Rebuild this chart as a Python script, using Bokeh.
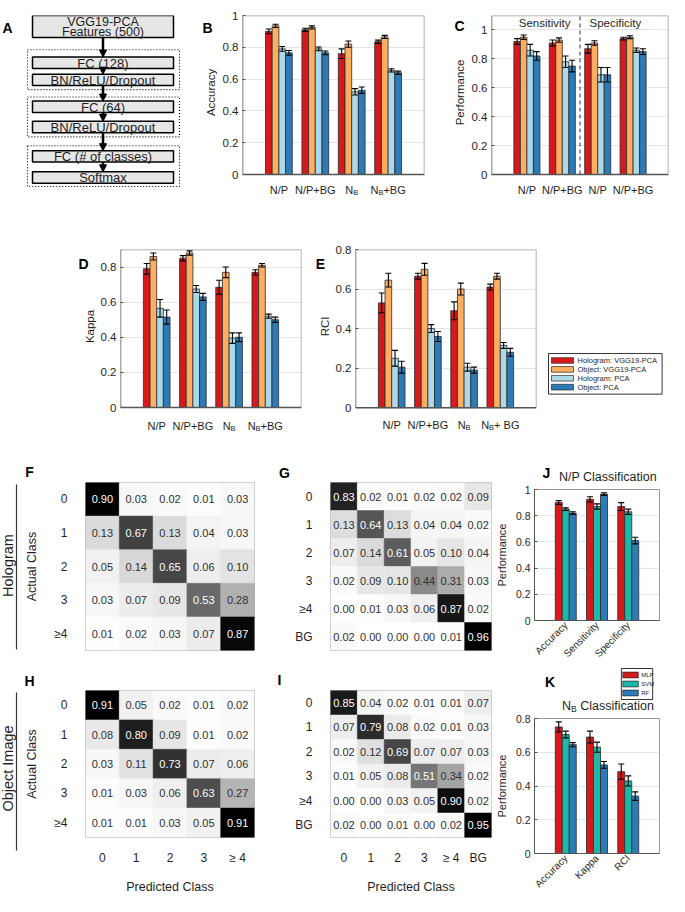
import math
from bokeh.plotting import figure
from bokeh.models import (Range1d, FixedTicker, Whisker, TeeHead, ColumnDataSource,
                          CustomJSTickFormatter, Arrow, NormalHead)
from bokeh.layouts import row, column
from bokeh.embed import file_html
from bokeh.resources import INLINE
from bokeh.core.properties import value
from bokeh.palettes import Greys256
from bokeh.transform import linear_cmap

FONT = "Liberation Sans"
INK = "#1f1f1f"
AXC = "#555555"
BOXC = "#9a9a9a"

# ---------------- data ----------------
series_names = ["Hologram: VGG19-PCA", "Object: VGG19-PCA", "Hologram: PCA", "Object: PCA"]
series_colors = ["#d7191c", "#fdae61", "#abd9e9", "#2c7bb6"]
clf_names = ["MLP", "SVM", "RF"]
clf_colors = ["#d7191c", "#1db9a8", "#2c7bb6"]

cats_acc = ["N/P", "N/P+BG", "N_B", "N_B+BG"]
cats_rci = ["N/P", "N/P+BG", "N_B", "N_B+ BG"]
cats_perf = ["N/P", "N/P+BG", "N/P", "N/P+BG"]
perf_groups = ["Sensitivity", "Specificity"]

# B: accuracy
acc_holo_vgg = [0.90, 0.91, 0.76, 0.835]
acc_obj_vgg = [0.935, 0.925, 0.82, 0.865]
acc_holo_pca = [0.79, 0.79, 0.52, 0.655]
acc_obj_pca = [0.765, 0.765, 0.53, 0.64]
acc_err_holo_vgg = [0.015, 0.01, 0.03, 0.01]
acc_err_obj_vgg = [0.01, 0.01, 0.02, 0.01]
acc_err_holo_pca = [0.015, 0.012, 0.02, 0.01]
acc_err_obj_pca = [0.015, 0.012, 0.02, 0.01]

# C: sensitivity (first two) / specificity (last two)
perf_holo_vgg = [0.92, 0.91, 0.87, 0.94]
perf_obj_vgg = [0.95, 0.93, 0.91, 0.95]
perf_holo_pca = [0.86, 0.78, 0.69, 0.86]
perf_obj_pca = [0.82, 0.75, 0.69, 0.85]
perf_err_holo_vgg = [0.02, 0.02, 0.03, 0.01]
perf_err_obj_vgg = [0.015, 0.015, 0.015, 0.01]
perf_err_holo_pca = [0.04, 0.04, 0.05, 0.015]
perf_err_obj_pca = [0.03, 0.04, 0.05, 0.02]

# D: kappa
kap_holo_vgg = [0.79, 0.85, 0.685, 0.77]
kap_obj_vgg = [0.86, 0.88, 0.77, 0.81]
kap_holo_pca = [0.565, 0.675, 0.395, 0.52]
kap_obj_pca = [0.515, 0.63, 0.40, 0.50]
kap_err_holo_vgg = [0.03, 0.015, 0.04, 0.015]
kap_err_obj_vgg = [0.02, 0.012, 0.03, 0.01]
kap_err_holo_pca = [0.05, 0.02, 0.03, 0.012]
kap_err_obj_pca = [0.04, 0.02, 0.025, 0.015]

# E: RCI
rci_holo_vgg = [0.53, 0.665, 0.49, 0.61]
rci_obj_vgg = [0.645, 0.70, 0.60, 0.665]
rci_holo_pca = [0.25, 0.40, 0.205, 0.315]
rci_obj_pca = [0.205, 0.36, 0.19, 0.28]
rci_err_holo_vgg = [0.05, 0.015, 0.045, 0.015]
rci_err_obj_vgg = [0.035, 0.03, 0.03, 0.015]
rci_err_holo_pca = [0.04, 0.02, 0.02, 0.015]
rci_err_obj_pca = [0.03, 0.025, 0.015, 0.02]

# J: N/P classification
j_metrics = ["Accuracy", "Sensitivity", "Specificity"]
j_mlp = [0.90, 0.925, 0.87]
j_svm = [0.85, 0.87, 0.83]
j_rf = [0.82, 0.965, 0.61]
j_err_mlp = [0.015, 0.02, 0.03]
j_err_svm = [0.01, 0.02, 0.02]
j_err_rf = [0.01, 0.01, 0.025]

# K: N_B classification
k_metrics = ["Accuracy", "Kappa", "RCI"]
k_mlp = [0.75, 0.69, 0.485]
k_svm = [0.705, 0.63, 0.43]
k_rf = [0.645, 0.525, 0.34]
k_err_mlp = [0.03, 0.035, 0.045]
k_err_svm = [0.02, 0.03, 0.03]
k_err_rf = [0.012, 0.02, 0.025]

# confusion matrices
classes5 = ["0", "1", "2", "3", "\u22654"]
classes6 = ["0", "1", "2", "3", "\u22654", "BG"]
pred5 = ["0", "1", "2", "3", "\u2265 4"]
pred6 = ["0", "1", "2", "3", "\u2265 4", "BG"]
cm_holo5 = [[0.90, 0.03, 0.02, 0.01, 0.03],
            [0.13, 0.67, 0.13, 0.04, 0.03],
            [0.05, 0.14, 0.65, 0.06, 0.10],
            [0.03, 0.07, 0.09, 0.53, 0.28],
            [0.01, 0.02, 0.03, 0.07, 0.87]]
cm_holo6 = [[0.83, 0.02, 0.01, 0.02, 0.02, 0.09],
            [0.13, 0.64, 0.13, 0.04, 0.04, 0.02],
            [0.07, 0.14, 0.61, 0.05, 0.10, 0.04],
            [0.02, 0.09, 0.10, 0.44, 0.31, 0.03],
            [0.00, 0.01, 0.03, 0.06, 0.87, 0.02],
            [0.02, 0.00, 0.00, 0.00, 0.01, 0.96]]
cm_obj5 = [[0.91, 0.05, 0.02, 0.01, 0.02],
           [0.08, 0.80, 0.09, 0.01, 0.02],
           [0.03, 0.11, 0.73, 0.07, 0.06],
           [0.01, 0.03, 0.06, 0.63, 0.27],
           [0.01, 0.01, 0.03, 0.05, 0.91]]
cm_obj6 = [[0.85, 0.04, 0.02, 0.01, 0.01, 0.07],
           [0.07, 0.79, 0.08, 0.02, 0.01, 0.03],
           [0.02, 0.12, 0.69, 0.07, 0.07, 0.03],
           [0.01, 0.05, 0.08, 0.51, 0.34, 0.02],
           [0.00, 0.00, 0.03, 0.05, 0.90, 0.02],
           [0.02, 0.00, 0.01, 0.00, 0.02, 0.95]]

# network diagram (panel A)
net_top = ["VGG19-PCA", "Features (500)"]
net_layers = ["FC (128)", "BN/ReLU/Dropout", "FC (64)", "BN/ReLU/Dropout",
              "FC (# of classes)", "Softmax"]

# ---------------- helpers ----------------
CW = {'N': .722, 'B': .667, '+': .584, 'G': .778, ' ': .278, 'C': .722, 'l': .222,
      'a': .556, 's': .5, 'i': .222, 'f': .278, 'c': .5, 't': .278, 'o': .556,
      'n': .556, '/': .278, 'P': .667, 'M': .833, 'L': .556, 'V': .667, 'R': .722,
      'F': .611, 'H': .722, 'g': .556, 'r': .333, 'm': .833, ':': .278, 'O': .778,
      'b': .556, 'j': .222, 'e': .556, 'A': .667, '-': .333, '1': .556, '9': .556}


def tw(s, size):
    return sum(CW.get(ch, .556) for ch in s) * size


def make_fig(fig_page, frame_page, x_range, y_range):
    px0, px1, py0, py1 = fig_page
    fx0, fx1, fy0, fy1 = frame_page
    p = figure(width=px1 - px0, height=py1 - py0, x_range=x_range, y_range=y_range,
               output_backend="svg", toolbar_location=None,
               min_border_left=fx0 - px0, min_border_right=px1 - fx1,
               min_border_top=fy0 - py0, min_border_bottom=py1 - fy1)
    p.outline_line_color = BOXC
    return p


def page_fig(x0, x1, y0, y1):
    """Blank figure whose data coordinates are page pixels (y downwards)."""
    p = figure(width=x1 - x0, height=y1 - y0, x_range=Range1d(x0, x1),
               y_range=Range1d(y1, y0), output_backend="svg", toolbar_location=None,
               x_axis_location=None, y_axis_location=None, min_border=0)
    p.grid.visible = False
    p.outline_line_color = None
    return p


def put_text(p, x, y, text, size, bold=False, angle=0.0, align="center", color=INK):
    p.text(x=[x], y=[y], text=[text], text_font=value(FONT), text_font_size=f"{size}px",
           text_font_style="bold" if bold else "normal", angle=angle,
           text_align=align, text_baseline="middle", text_color=color)


def split_sub(text):
    if "_" not in text:
        return [(text, False)]
    a, b = text.split("_", 1)
    parts = [(a, False), (b[0], True)]
    if len(b) > 1:
        parts.append((b[1:], False))
    return parts


def rich_texts(p, xs_in, y, texts, size, sub_drop=3):
    """Texts with a subscript after '_' ; y_offset is in screen px (down)."""
    xs, ys, ts, xo, yo, fs = [], [], [], [], [], []
    sub = size * 0.68
    for x, text in zip(xs_in, texts):
        parts = split_sub(text)
        ws = [tw(s, sub if sb else size) for s, sb in parts]
        off = -sum(ws) / 2
        for (s, sb), w in zip(parts, ws):
            lead = len(s) - len(s.lstrip(" "))
            fsz = sub if sb else size
            xs.append(x)
            ys.append(y)
            ts.append(s.lstrip(" "))
            xo.append(off + tw(" " * lead, fsz))
            yo.append(sub_drop if sb else 0)
            fs.append(f"{fsz}px")
            off += w
    src = ColumnDataSource(dict(x=xs, y=ys, t=ts, xo=xo, yo=yo, fs=fs))
    p.text(x="x", y="y", text="t", x_offset="xo", y_offset="yo", text_font_size="fs",
           text_font=value(FONT), text_align="left", text_baseline="middle",
           text_color=INK, source=src)


def style_axes(p, tick_size, label_size):
    for ax in p.axis:
        ax.major_label_text_font = FONT
        ax.major_label_text_font_size = f"{tick_size}px"
        ax.major_label_text_color = INK
        ax.axis_label_text_font = FONT
        ax.axis_label_text_font_size = f"{label_size}px"
        ax.axis_label_text_font_style = "normal"
        ax.axis_label_text_color = INK
        ax.axis_line_color = AXC
        ax.major_tick_line_color = AXC
        ax.minor_tick_line_color = None
        ax.major_tick_out = 0
        ax.major_tick_in = 3
    p.ygrid.grid_line_color = "#e4e4e4"
    p.xgrid.grid_line_color = None


def add_bars(p, vals_list, errs_list, colors, bar_w, offsets):
    for vals, errs, col, off in zip(vals_list, errs_list, colors, offsets):
        xs = [i + 1 + off for i in range(len(vals))]
        src = ColumnDataSource(dict(x=xs, top=vals,
                                    up=[v + e for v, e in zip(vals, errs)],
                                    lo=[v - e for v, e in zip(vals, errs)]))
        p.vbar(x="x", top="top", bottom=0, width=bar_w, source=src, fill_color=col,
               line_color="#2b2b2b", line_width=0.8)
        p.add_layout(Whisker(source=src, base="x", upper="up", lower="lo",
                             line_color="black", line_width=1.1, level="annotation",
                             upper_head=TeeHead(size=6, line_color="black", line_width=1.1),
                             lower_head=TeeHead(size=6, line_color="black", line_width=1.1)))


def group_chart(fig_page, frame_page, xmax, ylim, yticks, cats, vals_list, errs_list,
                label_px=15, ext_px=34, tick_size=11.5, cat_size=11):
    """Grouped bar chart; the category labels are drawn inside an extended frame
    below the value axis, at the same x scale as the bars."""
    fx0, fx1, fy0, fy1 = frame_page
    upp = (ylim[1] - ylim[0]) / (fy1 - fy0)
    y_lo = ylim[0] - ext_px * upp
    p = make_fig(fig_page, (fx0, fx1, fy0, fy1 + ext_px), Range1d(0, xmax),
                 Range1d(y_lo, ylim[1]))
    p.outline_line_color = None
    add_bars(p, vals_list, errs_list, series_colors, 0.184, off4)
    style_axes(p, tick_size, 11)
    p.yaxis.ticker = FixedTicker(ticks=yticks)
    p.yaxis.formatter = CustomJSTickFormatter(code="return (Math.round(tick*100)/100).toString();")
    p.yaxis.major_label_standoff = 4
    p.yaxis.axis_line_color = None
    p.xaxis.visible = False
    # box of the value area (top / right in light grey, axes darker)
    p.segment(x0=[0, xmax], y0=[ylim[1], ylim[0]], x1=[xmax, xmax], y1=[ylim[1], ylim[1]],
              line_color=BOXC, line_width=1.5)
    p.segment(x0=[0, 0], y0=[ylim[0], ylim[0]], x1=[xmax, 0], y1=[ylim[0], ylim[1]],
              line_color=AXC, line_width=1.5)
    rich_texts(p, list(range(1, len(cats) + 1)), ylim[0] - label_px * upp, cats, cat_size)
    return p


def small_chart(fig_page, frame_page, ylim, yticks, cats, vals_list, errs_list):
    p = make_fig(fig_page, frame_page, Range1d(0, 4), Range1d(*ylim))
    add_bars(p, vals_list, errs_list, clf_colors, 0.224, off3)
    style_axes(p, 10.5, 11)
    p.yaxis.ticker = FixedTicker(ticks=yticks)
    p.yaxis.formatter = CustomJSTickFormatter(code="return (Math.round(tick*100)/100).toString();")
    p.yaxis.major_label_standoff = 4
    p.yaxis.axis_label = "Performance"
    p.yaxis.axis_label_standoff = 5
    p.xaxis.major_tick_in = 0
    p.xaxis.ticker = FixedTicker(ticks=[1, 2, 3])
    p.xaxis.major_label_overrides = {i + 1: c for i, c in enumerate(cats)}
    p.xaxis.major_label_text_font_size = "10px"
    p.xaxis.major_label_standoff = 3
    p.xaxis.major_label_orientation = math.pi / 4
    return p


def matrix_panel(fig_page, frame_page, mat, row_labels, col_labels, ylabel, xlabel, num_size):
    nr, nc = len(mat), len(mat[0])
    p = make_fig(fig_page, frame_page, Range1d(0, nc), Range1d(nr, 0))
    vmax = max(max(r) for r in mat)
    xs, ys, vs, ts, cs = [], [], [], [], []
    for i, r in enumerate(mat):
        for j, v in enumerate(r):
            xs.append(j + 0.5)
            ys.append(i + 0.5)
            vs.append(v)
            ts.append(f"{v:.2f}")
            cs.append("white" if v >= 0.5 else "#303030")
    src = ColumnDataSource(dict(x=xs, y=ys, v=vs, t=ts, c=cs))
    cmap = linear_cmap("v", list(reversed(Greys256)), 0, vmax)
    p.rect(x="x", y="y", width=1, height=1, source=src, fill_color=cmap,
           line_color=cmap, line_width=0.5)
    p.text(x="x", y="y", text="t", source=src, text_color="c", text_font=value(FONT),
           text_font_size=f"{num_size}px", text_align="center", text_baseline="middle")
    p.grid.visible = False
    p.outline_line_color = "#b3b3b3"
    for ax in p.axis:
        ax.axis_line_color = None
        ax.major_tick_line_color = None
        ax.minor_tick_line_color = None
        ax.major_label_text_font = FONT
        ax.major_label_text_font_size = "12px"
        ax.major_label_text_color = INK
        ax.axis_label_text_font = FONT
        ax.axis_label_text_font_size = "12.5px"
        ax.axis_label_text_font_style = "normal"
        ax.axis_label_text_color = INK
    p.yaxis.ticker = FixedTicker(ticks=[i + 0.5 for i in range(nr)])
    p.yaxis.major_label_overrides = {i + 0.5: l for i, l in enumerate(row_labels)}
    p.yaxis.major_label_standoff = 12
    if ylabel:
        p.yaxis.axis_label = ylabel
        p.yaxis.axis_label_standoff = 12
    if col_labels:
        p.xaxis.ticker = FixedTicker(ticks=[j + 0.5 for j in range(nc)])
        p.xaxis.major_label_overrides = {j + 0.5: l for j, l in enumerate(col_labels)}
        p.xaxis.major_label_standoff = 7
        p.xaxis.axis_label = xlabel
        p.xaxis.axis_label_standoff = 12
    else:
        p.xaxis.visible = False
    return p


def manual_legend(p, x0, y0, names, colors, size, sw_w, row_h, pad=3):
    n = len(names)
    width = pad + sw_w + 4 + max(tw(nm, size) for nm in names) + pad + 2
    height = 2 * pad + n * row_h
    p.quad(left=[x0], right=[x0 + width], top=[y0], bottom=[y0 + height],
           fill_color="white", line_color="black", line_width=0.8)
    ys = [y0 + pad + row_h * (i + 0.5) for i in range(n)]
    p.quad(left=[x0 + pad] * n, right=[x0 + pad + sw_w] * n,
           top=[y - row_h * 0.32 for y in ys], bottom=[y + row_h * 0.32 for y in ys],
           fill_color=colors, line_color="#2b2b2b", line_width=0.7)
    p.text(x=[x0 + pad + sw_w + 4] * n, y=ys, text=names, text_font=value(FONT),
           text_font_size=f"{size}px", text_align="left", text_baseline="middle",
           text_color=INK)


off4 = [-0.276, -0.092, 0.092, 0.276]
off3 = [-0.224, 0.0, 0.224]
acc_ticks = [0, 0.2, 0.4, 0.6, 0.8, 1]
low_ticks = [0, 0.2, 0.4, 0.6, 0.8]

# ---------------- row 1 : A, B, C ----------------
pA = page_fig(8, 195, 8, 245)
box_x0, box_x1, mid_x = 40, 181, 110.5
top_box = (8, 35)
layer_boxes = [(59, 73), (80, 94), (113, 127), (138, 152), (174, 188), (200, 214)]
groups = [(50, 99), (108, 157), (168, 218)]
all_boxes = [top_box] + layer_boxes
pA.quad(left=[35] * 3, right=[187] * 3, top=[g[0] for g in groups],
        bottom=[g[1] for g in groups], fill_color=None, line_color="black",
        line_width=1.1, line_dash="1 2")
pA.quad(left=[box_x0] * len(all_boxes), right=[box_x1] * len(all_boxes),
        top=[b[0] for b in all_boxes], bottom=[b[1] for b in all_boxes],
        fill_color="#e6e6e6", line_color="black", line_width=1.5)
pA.text(x=[mid_x, mid_x], y=[15.5, 28], text=net_top, text_font=value(FONT),
        text_font_size="12.5px", text_align="center", text_baseline="middle", text_color=INK)
pA.text(x=[mid_x] * len(layer_boxes), y=[(a + b) / 2 + 0.5 for a, b in layer_boxes],
        text=net_layers, text_font=value(FONT), text_font_size="13px",
        text_align="center", text_baseline="middle", text_color=INK)
for a, b in zip(all_boxes[:-1], all_boxes[1:]):
    pA.add_layout(Arrow(x_start=mid_x, y_start=a[1], x_end=mid_x, y_end=b[0],
                        line_width=2.5, line_color="black",
                        end=NormalHead(size=7, fill_color="black", line_color="black")))
put_text(pA, 15, 23, "A", 14, bold=True, color="black")

sB = page_fig(195, 227, 8, 245)
put_text(sB, 215, 23, "B", 14, bold=True, color="black")
put_text(sB, 218, 102.5, "Accuracy", 11.5, angle=math.pi / 2)
pB = group_chart((227, 440, 8, 245), (250, 432, 23, 182), 5, (0, 1), acc_ticks, cats_acc,
                 [acc_holo_vgg, acc_obj_vgg, acc_holo_pca, acc_obj_pca],
                 [acc_err_holo_vgg, acc_err_obj_vgg, acc_err_holo_pca, acc_err_obj_pca])

sC = page_fig(440, 476, 8, 245)
put_text(sC, 467, 21, "C", 14, bold=True, color="black")
put_text(sC, 467, 102.5, "Performance", 11.5, angle=math.pi / 2)
pC = group_chart((476, 677, 8, 245), (497, 676, 23, 182), 5, (0, 1.1), acc_ticks, cats_perf,
                 [perf_holo_vgg, perf_obj_vgg, perf_holo_pca, perf_obj_pca],
                 [perf_err_holo_vgg, perf_err_obj_vgg, perf_err_holo_pca, perf_err_obj_pca])
pC.segment(x0=[2.5], y0=[0], x1=[2.5], y1=[1.1], line_color="#333333",
           line_dash="4 3", line_width=1)
pC.text(x=[1.5, 3.5], y=[1.05, 1.05], text=perf_groups, text_font=value(FONT),
        text_font_size="11.5px", text_align="center", text_baseline="middle", text_color=INK)

row1 = row(pA, sB, pB, sC, pC)

# ---------------- row 2 : D, E, legend ----------------
sD = page_fig(8, 105, 245, 472)
put_text(sD, 91, 262, "D", 14, bold=True, color="black")
put_text(sD, 97, 336, "Kappa", 11.5, angle=math.pi / 2)
pD = group_chart((105, 322, 245, 472), (127, 309, 257, 415), 5, (0, 0.9), low_ticks, cats_acc,
                 [kap_holo_vgg, kap_obj_vgg, kap_holo_pca, kap_obj_pca],
                 [kap_err_holo_vgg, kap_err_obj_vgg, kap_err_holo_pca, kap_err_obj_pca],
                 label_px=18)

sE = page_fig(322, 340, 245, 472)
put_text(sE, 328, 262, "E", 14, bold=True, color="black")
put_text(sE, 332, 336, "RCI", 11.5, angle=math.pi / 2)
pE = group_chart((340, 548, 245, 472), (362, 544, 257, 416), 5, (0, 0.8), low_ticks, cats_rci,
                 [rci_holo_vgg, rci_obj_vgg, rci_holo_pca, rci_obj_pca],
                 [rci_err_holo_vgg, rci_err_obj_vgg, rci_err_holo_pca, rci_err_obj_pca],
                 label_px=17)

sL = page_fig(548, 677, 245, 472)
manual_legend(sL, 556, 368, series_names, series_colors, 7.5, 22, 10.5)

row2 = row(sD, pD, sE, pE, sL)

# ---------------- rows 3-4 : matrices, J, K ----------------
sHolo = page_fig(8, 30, 472, 680)
put_text(sHolo, 15, 573, "Hologram", 14.5, angle=math.pi / 2)
sHolo.segment(x0=[24], y0=[492], x1=[24], y1=[657], line_color="#333333", line_width=1.2)
sObj = page_fig(8, 30, 680, 904)
put_text(sObj, 15, 776, "Object Image", 14.5, angle=math.pi / 2)
sObj.segment(x0=[24], y0=[700], x1=[24], y1=[858], line_color="#333333", line_width=1.2)

sFG = page_fig(30, 500, 472, 489)
put_text(sFG, 37, 479, "F", 14, bold=True, color="black")
put_text(sFG, 292, 480, "G", 14, bold=True, color="black")
pF = matrix_panel((30, 300, 489, 680), (92, 262, 489, 658), cm_holo5, classes5, None,
                  "Actual Class", None, 11)
pG = matrix_panel((300, 500, 489, 680), (329, 499, 490, 660), cm_holo6, classes6, None,
                  None, None, 11)
sHI = page_fig(30, 500, 680, 698)
put_text(sHI, 37, 688, "H", 14, bold=True, color="black")
put_text(sHI, 287, 687, "I", 14, bold=True, color="black")
pH = matrix_panel((30, 300, 698, 904), (92, 262, 698, 862), cm_obj5, classes5, pred5,
                  "Actual Class", "Predicted Class", 11)
pI = matrix_panel((300, 500, 698, 904), (329, 499, 698, 862), cm_obj6, classes6, pred6,
                  None, "Predicted Class", 11)
mats = column(sFG, row(pF, pG), sHI, row(pH, pI))

sJ = page_fig(500, 677, 472, 491)
put_text(sJ, 517, 480, "J", 14, bold=True, color="black")
put_text(sJ, 604, 484, "N/P Classification", 12.5)
pJ = small_chart((500, 677, 491, 674), (542, 667, 497, 629), (0, 1), acc_ticks, j_metrics,
                 [j_mlp, j_svm, j_rf], [j_err_mlp, j_err_svm, j_err_rf])
sK = page_fig(500, 677, 674, 720)
manual_legend(sK, 623, 676, clf_names, clf_colors, 6, 22, 9, pad=2)
put_text(sK, 522, 689, "K", 14, bold=True, color="black")
rich_texts(sK, [604], 713, ["N_B Classification"], 12.5)
pK = small_chart((500, 677, 720, 904), (542, 667, 726, 862), (0, 0.8), low_ticks, k_metrics,
                 [k_mlp, k_svm, k_rf], [k_err_mlp, k_err_svm, k_err_rf])
right_col = column(sJ, pJ, sK, pK)

row34 = row(column(sHolo, sObj), mats, right_col)

layout = column(row1, row2, row34)
open("out.html", "w").write(file_html(layout, INLINE))
